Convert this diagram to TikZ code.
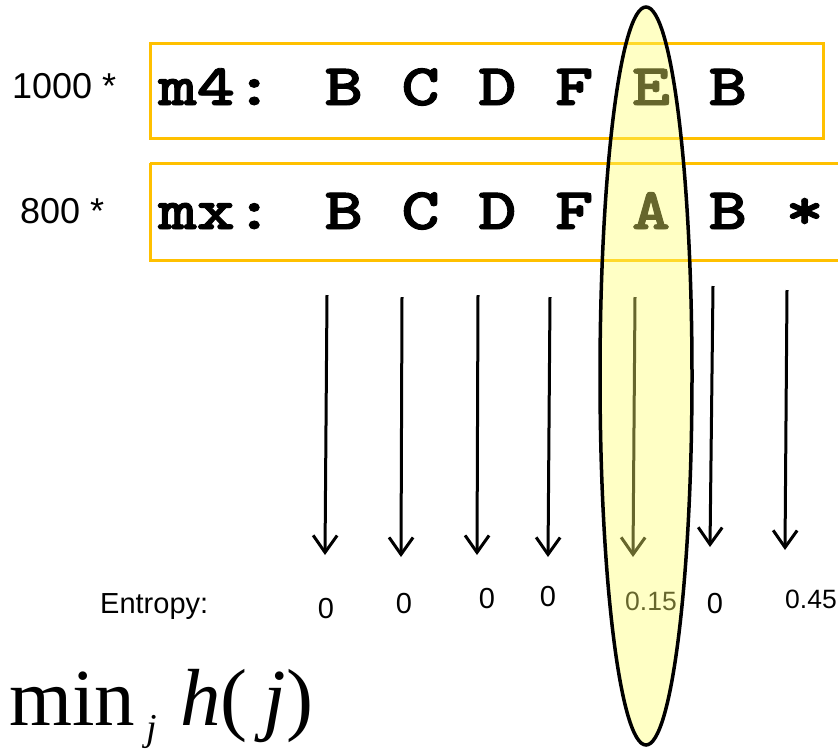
\documentclass[tikz,border=0pt]{standalone}
\usepackage{fontspec}
\setmainfont{Liberation Sans}
\newfontfamily\seqfont{lmmonolt10-bold.otf}[FakeStretch=1.24, FakeBold=1.6]
\newfontfamily\timesfont{Liberation Serif}
\usetikzlibrary{arrows.meta}
\definecolor{boxgold}{RGB}{255,192,0}
\definecolor{hilite}{RGB}{255,255,110}
\tikzset{
  seqbox/.style={draw=boxgold, line width=3pt},
  seqtext/.style={inner sep=0pt, anchor=base west, font=\seqfont\fontsize{59}{59}\selectfont},
  weight/.style={inner sep=0pt, anchor=base west, font=\fontsize{36}{36}\selectfont},
  colarrow/.style={line width=3pt, -{Straight Barb[length=17pt,width=24pt,line width=3pt]}},
  entval/.style={inner sep=0pt, anchor=base, font=\fontsize{29}{29}\selectfont},
  entfrac/.style={inner sep=0pt, anchor=base, font=\fontsize{26.5}{26.5}\selectfont},
  bigmath/.style={inner sep=0pt, anchor=base west, font=\timesfont\fontsize{81}{81}\selectfont},
}
\begin{document}
\begin{tikzpicture}[x=1pt,y=-1pt]
\useasboundingbox (0,0) rectangle (838,748);

% the two aligned sequences
\draw[seqbox] (150,43) rectangle (823,138);
\draw[seqbox] (150,163) -- (850,163) (150,163) -- (150,260) -- (850,260);
\node[seqtext] (row1) at (158,105) {m4: B C D F E B};
\node[seqtext] (row2) at (158,229) {mx: B C D F A B *};

% sequence weights
\node[weight] (w1) at (12,98) {1000 *};
\node[weight] (w2) at (20,223) {800 *};

% one arrow per column
\foreach \i/\xt/\yt/\xb/\yb in {1/327/295/325/555, 2/402/297/401/557, 3/478/295/477/555,
    4/550/297/548/557, 5/635/297/633/557, 6/713/286/710/547, 7/787/290/785/550} {
  \coordinate (top\i) at (\xt,\yt);
  \coordinate (bot\i) at (\xb,\yb);
  \draw[colarrow] (top\i) -- (bot\i);
}

% per-column entropy
\node[inner sep=0pt, anchor=base west, font=\fontsize{29}{29}\selectfont] (entlabel) at (100,613) {Entropy:};
\node[entval] (e1) at (326,618) {0};
\node[entval] (e2) at (404,613) {0};
\node[entval] (e3) at (487,608) {0};
\node[entval] (e4) at (548,606) {0};
\node[entfrac] (e5) at (651,610) {0.15};
\node[entval] (e6) at (715,613) {0};
\node[entfrac, anchor=base west] (e7) at (785,608) {0.45};

% objective
\node[bigmath] (minop) at (9,725) {min};
\node[bigmath, font=\timesfont\itshape\fontsize{38}{38}\selectfont] (subj) at (146,740) {j};
\node[bigmath] (hj) at (180,725) {\itshape h\upshape(\hspace{16pt}\itshape j\upshape)};

% highlighted column with the lowest entropy
\draw[line width=3.5pt, fill=hilite, fill opacity=0.4] (646,376) ellipse [x radius=46, y radius=369];
\end{tikzpicture}
\end{document}
